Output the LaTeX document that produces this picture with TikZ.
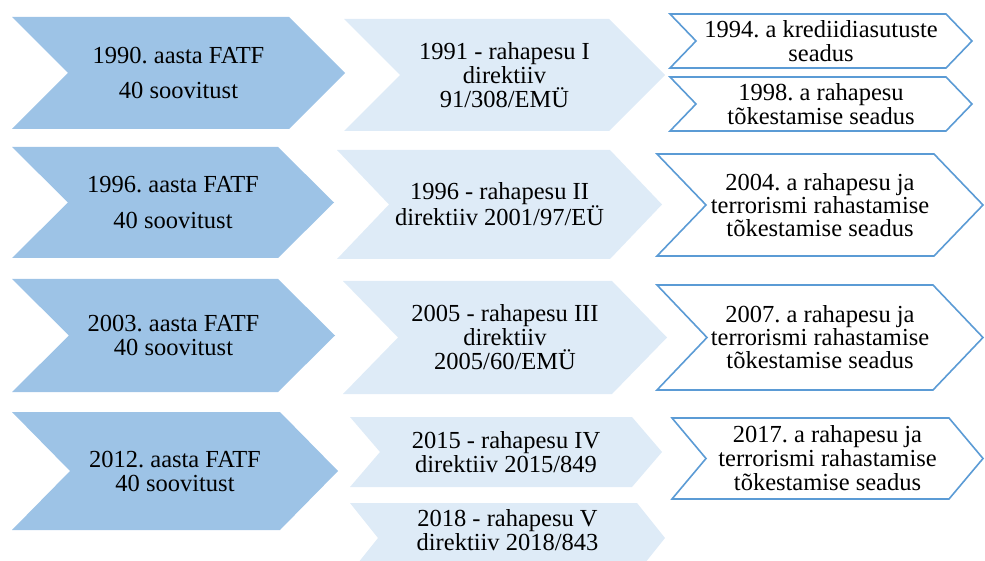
\documentclass[tikz,border=0pt]{standalone}
\usepackage{fontspec}
\setmainfont{Liberation Serif}
\frenchspacing
\definecolor{DarkClr}{RGB}{157,195,230}
\definecolor{LightClr}{RGB}{222,235,247}
\definecolor{LineClr}{RGB}{91,155,213}

% chevron: name, style, left x, tip x, top y, bottom y, depth, text shift, text
\newcommand{\chevron}[9]{%
  \pgfmathsetmacro{\ymid}{(#5+#6)/2}%
  \pgfmathsetmacro{\xin}{#4-#7}%
  \pgfmathsetmacro{\xnotch}{#3+#7}%
  \pgfmathsetmacro{\xtxt}{(#3+#4)/2}%
  \path[#2] (#3,#5) -- (\xin,#5) -- (#4,\ymid) -- (\xin,#6) -- (#3,#6) -- (\xnotch,\ymid) -- cycle;
  \node[txt] (#1) at (\xtxt,\ymid+#8) {#9};%
}

\tikzset{
  darkarrow/.style={fill=DarkClr},
  lightarrow/.style={fill=LightClr},
  linearrow/.style={draw=LineClr,fill=white,line width=1.6pt,line join=miter},
  txt/.style={align=center,font=\fontsize{24.5}{24}\selectfont,inner sep=0pt}
}

\begin{document}
\begin{tikzpicture}[x=1pt,y=-1pt]
\useasboundingbox (0,0) rectangle (985,561);

% FATF
\chevron{fatf1}{darkarrow}{12}{345}{17}{129}{56}{0}{1990. aasta FATF\\[11pt]40 soovitust}
\chevron{fatf2}{darkarrow}{12}{334}{147}{258}{56}{0}{1996. aasta FATF\\[12pt]40 soovitust}
\chevron{fatf3}{darkarrow}{12}{335}{279}{392}{57}{0}{2003. aasta FATF\\40 soovitust}
\chevron{fatf4}{darkarrow}{12}{338}{412}{530}{58}{0}{2012. aasta FATF\\40 soovitust}

% direktiivid
\chevron{dir1}{lightarrow}{344}{665}{19}{131}{56}{0}{1991 - rahapesu I\\direktiiv\\91/308/EMÜ}
\chevron{dir2}{lightarrow}{337}{662}{150}{259}{52}{0}{1996 - rahapesu II\\direktiiv 2001/97/EÜ}
\chevron{dir3}{lightarrow}{343}{667}{281}{394}{55}{0}{2005 - rahapesu III\\direktiiv\\2005/60/EMÜ}
\chevron{dir4}{lightarrow}{350}{662}{417}{487}{30}{0}{2015 - rahapesu IV\\direktiiv 2015/849}
\chevron{dir5}{lightarrow}{350}{665}{503}{573}{28}{-8}{2018 - rahapesu V\\direktiiv 2018/843}

% seadused
\chevron{law1}{linearrow}{670}{972}{14}{68}{26}{0}{1994. a krediidiasutuste\\seadus}
\chevron{law2}{linearrow}{670}{972}{77}{131}{26}{0}{1998. a rahapesu\\tõkestamise seadus}
\chevron{law3}{linearrow}{657}{983}{154}{256}{49}{0}{2004. a rahapesu ja\\[-1pt]terrorismi rahastamise\\[-1pt]tõkestamise seadus}
\chevron{law4}{linearrow}{657}{983}{285}{390}{50}{0}{2007. a rahapesu ja\\[-1pt]terrorismi rahastamise\\[-1pt]tõkestamise seadus}
\chevron{law5}{linearrow}{672}{983}{418}{499}{34}{0}{2017. a rahapesu ja\\terrorismi rahastamise\\tõkestamise seadus}

\end{tikzpicture}
\end{document}
